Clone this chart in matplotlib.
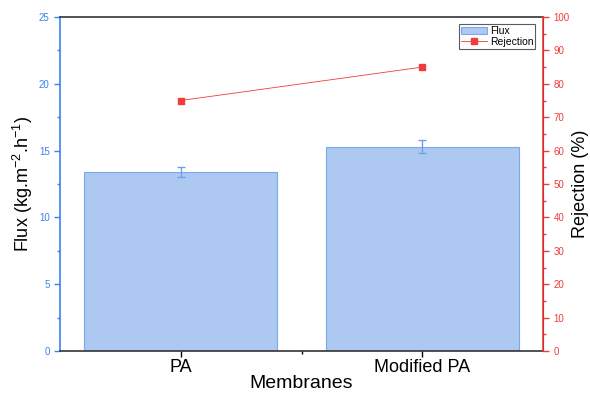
import matplotlib.pyplot as plt
import numpy as np

# data
membranes = ['PA', 'Modified PA']
flux = [13.4, 15.3]
flux_err = [0.4, 0.5]
rejection = [75, 85]

blue = '#3a82f0'
red = '#f03c3c'
bar_face = '#adc9f2'

plt.rcParams['font.family'] = ['Liberation Sans', 'DejaVu Sans']


def draw():
    fig = plt.figure(figsize=(5.9, 3.94), dpi=100)
    ax = fig.add_axes([60 / 590, 1 - 351 / 394, 483 / 590, 334 / 394])
    x = np.arange(1, len(membranes) + 1)

    ax.bar(x, flux, width=0.8, color=bar_face, edgecolor='#7aa8ee', linewidth=0.8,
           label='Flux', zorder=2)
    ax.errorbar(x, flux, yerr=flux_err, fmt='none', ecolor='#6f9fe8', elinewidth=1,
                capsize=3, capthick=1, zorder=3)
    ax.set_xlim(0.5, 2.5)
    ax.set_ylim(0, 25)
    ax.set_xticks(x)
    ax.set_xticklabels(membranes, fontsize=13)
    ax.set_xticks([1.5], minor=True)
    ax.set_yticks(np.arange(0, 26, 5))
    ax.set_yticks(np.arange(0, 25, 2.5), minor=True)
    ax.set_xlabel('Membranes', fontsize=14, labelpad=-1)
    ax.set_ylabel('Flux (kg.m$^{\\mathregular{-2}}$.h$^{\\mathregular{-1}}$)', fontsize=13,
                  labelpad=3)
    ax.tick_params(axis='y', colors=blue, labelsize=7, length=4, width=1)
    ax.tick_params(axis='y', which='minor', colors=blue, length=2, width=1)
    ax.tick_params(axis='x', length=4, width=1, pad=2)
    ax.tick_params(axis='x', which='minor', length=2, width=1)
    ax.spines['left'].set_color(blue)
    ax.spines['left'].set_linewidth(1.2)
    for s in ['top', 'bottom']:
        ax.spines[s].set_color('#333333')
        ax.spines[s].set_linewidth(1.2)

    ax2 = ax.twinx()
    ax2.plot(x, rejection, color=red, marker='s', markersize=4, linewidth=0.6,
             label='Rejection', zorder=4)
    ax2.set_ylim(0, 100)
    ax2.set_yticks(np.arange(0, 101, 10))
    ax2.set_yticks(np.arange(0, 100, 5), minor=True)
    ax2.set_ylabel('Rejection (%)', fontsize=13, labelpad=2)
    ax2.tick_params(axis='y', colors=red, labelsize=7, length=4, width=1)
    ax2.tick_params(axis='y', which='minor', colors=red, length=2, width=1)
    ax2.spines['right'].set_color(red)
    ax2.spines['right'].set_linewidth(1.2)
    ax2.spines['left'].set_visible(False)
    ax2.spines['top'].set_visible(False)
    ax2.spines['bottom'].set_visible(False)

    h1, l1 = ax.get_legend_handles_labels()
    h2, l2 = ax2.get_legend_handles_labels()
    leg = ax2.legend(h1 + h2, l1 + l2, loc='upper right', fontsize=7.5, frameon=True,
                     fancybox=False, edgecolor='#333333', borderpad=0.2,
                     handlelength=2.5, handletextpad=0.3, labelspacing=0.1,
                     bbox_to_anchor=(0.995, 0.995))
    leg.get_frame().set_linewidth(0.8)

    fig.savefig('out.png', dpi=100)


if __name__ == '__main__':
    draw()
